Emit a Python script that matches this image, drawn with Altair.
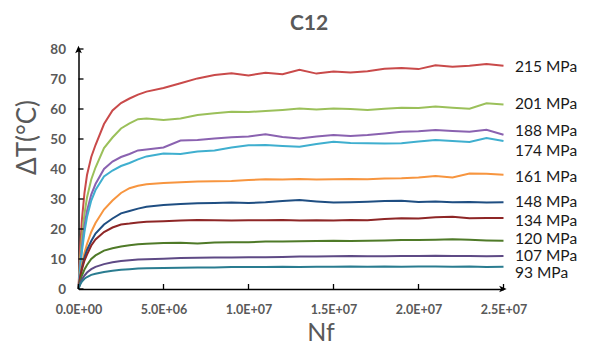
import altair as alt
import pandas as pd

# Nf sample positions (millions of cycles)
nf_millions = [0, 0.1, 0.2, 0.35, 0.5, 0.75, 1, 1.5, 2, 2.5, 3, 3.5, 4, 5, 6, 7, 8, 9, 10,
               11, 12, 13, 14, 15, 16, 17, 18, 19, 20, 21, 22, 23, 24, 25]

dt_215 = [0, 14, 23, 32, 38, 44, 48, 55, 59.5, 62, 63.5, 64.8, 65.8, 67, 68.6, 70.2, 71.3, 71.9,
          71.2, 72.1, 71.6, 73.1, 71.8, 72.5, 72.2, 72.6, 73.4, 73.7, 73.3, 74.6, 74.1, 74.4, 75.0, 74.4]
dt_201 = [0, 10, 17, 25, 30.5, 36.5, 40.5, 47, 50.5, 53.5, 55.2, 56.6, 56.8, 56.3, 56.8, 58.0, 58.6, 59.1,
          59.0, 59.3, 59.7, 60.2, 59.8, 60.2, 60.0, 59.7, 60.1, 60.4, 60.3, 60.8, 60.4, 60.1, 61.9, 61.5]
dt_188 = [0, 8, 14, 21, 26, 31.5, 35, 40, 42.5, 44, 45, 46.2, 46.5, 47.2, 49.5, 49.7, 50.2, 50.6,
          50.8, 51.6, 50.7, 50.2, 50.8, 51.3, 51.0, 51.3, 51.8, 52.4, 52.6, 53.0, 52.7, 52.4, 53.1, 51.4]
dt_174 = [0, 7, 12.5, 19, 24, 29.5, 33, 37.5, 39.5, 41, 42, 43.2, 44.2, 45.2, 45.0, 45.8, 46.2, 47.2,
          47.9, 48.0, 47.7, 47.4, 48.3, 49.1, 48.7, 48.6, 48.5, 48.6, 49.2, 49.7, 49.3, 49.0, 50.3, 49.3]
dt_161 = [0, 4.5, 8, 12, 15, 19, 22, 26.5, 29.5, 32, 33.6, 34.4, 34.9, 35.3, 35.6, 35.8, 35.9, 36.0,
          36.3, 36.6, 36.5, 36.7, 36.5, 36.6, 36.7, 36.6, 36.8, 36.9, 37.2, 37.7, 37.2, 38.5, 38.4, 38.1]
dt_148 = [0, 4, 7, 10.5, 13, 16, 18.5, 21.5, 23.5, 25.2, 26, 26.8, 27.4, 28.0, 28.3, 28.6, 28.7, 28.8,
          28.7, 28.9, 29.3, 29.7, 29.2, 28.8, 28.9, 29.1, 29.3, 29.4, 29.0, 29.2, 28.9, 29.0, 28.8, 28.9]
dt_134 = [0, 4, 6.5, 9.5, 11.5, 14.5, 16.5, 19, 20.5, 21.5, 21.8, 22.2, 22.4, 22.6, 22.8, 23.0, 22.9, 22.8,
          22.9, 22.9, 23.0, 22.8, 22.9, 22.8, 23.0, 22.9, 23.3, 23.6, 23.5, 23.9, 24.1, 23.6, 23.7, 23.7]
dt_120 = [0, 2.5, 4.5, 6.5, 8, 10, 11.2, 12.8, 13.6, 14.2, 14.6, 14.9, 15.1, 15.3, 15.4, 15.2, 15.5, 15.6,
          15.6, 15.8, 15.8, 15.9, 16.0, 16.1, 16.0, 16.1, 16.2, 16.3, 16.3, 16.4, 16.6, 16.4, 16.2, 16.1]
dt_107 = [0, 2, 3.2, 4.5, 5.5, 6.6, 7.4, 8.3, 8.9, 9.3, 9.6, 9.8, 9.9, 10.1, 10.3, 10.4, 10.5, 10.5,
          10.6, 10.6, 10.7, 10.8, 10.8, 10.9, 11.0, 10.9, 10.9, 11.0, 11.0, 11.1, 11.0, 11.0, 10.9, 11.0]
dt_93 = [0, 1.5, 2.5, 3.4, 4.0, 4.7, 5.1, 5.7, 6.1, 6.4, 6.6, 6.8, 6.9, 7.0, 7.1, 7.2, 7.2, 7.3,
         7.3, 7.3, 7.4, 7.3, 7.4, 7.4, 7.5, 7.4, 7.5, 7.4, 7.5, 7.5, 7.4, 7.5, 7.3, 7.4]

stress_labels = ["215 MPa", "201 MPa", "188 MPa", "174 MPa", "161 MPa",
                 "148 MPa", "134 MPa", "120 MPa", "107 MPa", "93 MPa"]
series = [dt_215, dt_201, dt_188, dt_174, dt_161, dt_148, dt_134, dt_120, dt_107, dt_93]
colors = ["#C94A4A", "#9BC05A", "#8A62B0", "#3FAFCF", "#F7953F",
          "#1F4E82", "#8E2626", "#4F7A28", "#5E4A85", "#2A7C90"]
# vertical level of each right-hand label (deg C)
label_level = [74.0, 61.7, 52.7, 46.0, 37.3, 29.0, 22.7, 16.8, 10.9, 5.4]

x_ticks = [0, 5e6, 1e7, 1.5e7, 2e7, 2.5e7]
y_ticks = [0, 10, 20, 30, 40, 50, 60, 70, 80]

rows = []
for lab, vals in zip(stress_labels, series):
    for n, v in zip(nf_millions, vals):
        rows.append({"Nf": n * 1e6, "dT": v, "stress": lab})
df = pd.DataFrame(rows)

lab_df = pd.DataFrame({"Nf": [x_ticks[-1]] * len(stress_labels), "dT": label_level,
                       "stress": stress_labels})
xt_df = pd.DataFrame({"Nf": x_ticks, "dT": [0] * len(x_ticks)})
yt_df = pd.DataFrame({"Nf": [0] * len(y_ticks), "dT": y_ticks})
arrow_up = pd.DataFrame({"Nf": [0], "dT": [y_ticks[-1]]})
arrow_right = pd.DataFrame({"Nf": [x_ticks[-1]], "dT": [0]})

FONT = "Lato"
GRAY = "#595959"

xscale = alt.Scale(domain=[x_ticks[0], x_ticks[-1]], nice=False)
yscale = alt.Scale(domain=[y_ticks[0], y_ticks[-1]], nice=False)

x_axis = alt.Axis(values=x_ticks, ticks=False, grid=False, domainColor="black", domainWidth=1.5,
                  labelExpr="replace(upper(format(datum.value, '.1e')), 'E+', 'E+0')",
                  labelFont=FONT, labelFontSize=12.5, labelFontWeight="bold", labelColor=GRAY,
                  labelPadding=14, labelFlush=False,
                  title="Nf", titleFont=FONT, titleFontSize=25, titleFontWeight="normal",
                  titleColor=GRAY, titleX=242, titleY=51, titleBaseline="alphabetic")
y_axis = alt.Axis(values=y_ticks, ticks=False, grid=False, domainColor="black", domainWidth=1.5,
                  labelFont=FONT, labelFontSize=13.5, labelFontWeight="bold", labelColor=GRAY,
                  labelPadding=13, labelFlush=False,
                  title="ΔT(°C)", titleFont=FONT, titleFontSize=26, titleFontWeight="normal",
                  titleColor=GRAY, titleX=-38, titleY=88)

X = alt.X("Nf:Q", scale=xscale, axis=x_axis)
Y = alt.Y("dT:Q", scale=yscale, axis=y_axis)

lines = alt.Chart(df).mark_line(strokeWidth=2).encode(
    x=X, y=Y,
    color=alt.Color("stress:N", scale=alt.Scale(domain=stress_labels, range=colors), legend=None),
)

labels = alt.Chart(lab_df).mark_text(align="left", baseline="middle", dx=11.5, font=FONT,
                                     fontSize=15.5, color="#1a1a1a").encode(
    x=X, y=Y, text="stress:N")

xticks = alt.Chart(xt_df).mark_tick(orient="vertical", size=5, thickness=1.3, yOffset=-2.5,
                                    color="black", opacity=1).encode(x=X, y=Y)
yticks = alt.Chart(yt_df).mark_tick(orient="horizontal", size=5, thickness=1.3, xOffset=2.5,
                                    color="black", opacity=1).encode(x=X, y=Y)

arrow_path = "M0,-1L0.8,0.8L0,0.35L-0.8,0.8Z"
up = alt.Chart(arrow_up).mark_point(shape=arrow_path, filled=True, size=70, color="black",
                                    opacity=1, strokeWidth=0, yOffset=1).encode(x=X, y=Y)
right = alt.Chart(arrow_right).mark_point(shape=arrow_path, filled=True, size=70, color="black",
                                          opacity=1, strokeWidth=0, angle=90, xOffset=-1).encode(x=X, y=Y)

chart = alt.layer(lines, xticks, yticks, up, right, labels).properties(
    width=425, height=240,
    title=alt.TitleParams("C12", font=FONT, fontSize=21, fontWeight="bold", color=GRAY,
                          anchor="middle", dx=18, offset=8),
    autosize=alt.AutoSizeParams(type="none"),
    padding={"left": 70.5, "top": 41, "right": 82.5, "bottom": 55},
    background="white",
).configure_view(stroke=None)

chart.save("out.html", embed_options={"renderer": "svg", "actions": False})
